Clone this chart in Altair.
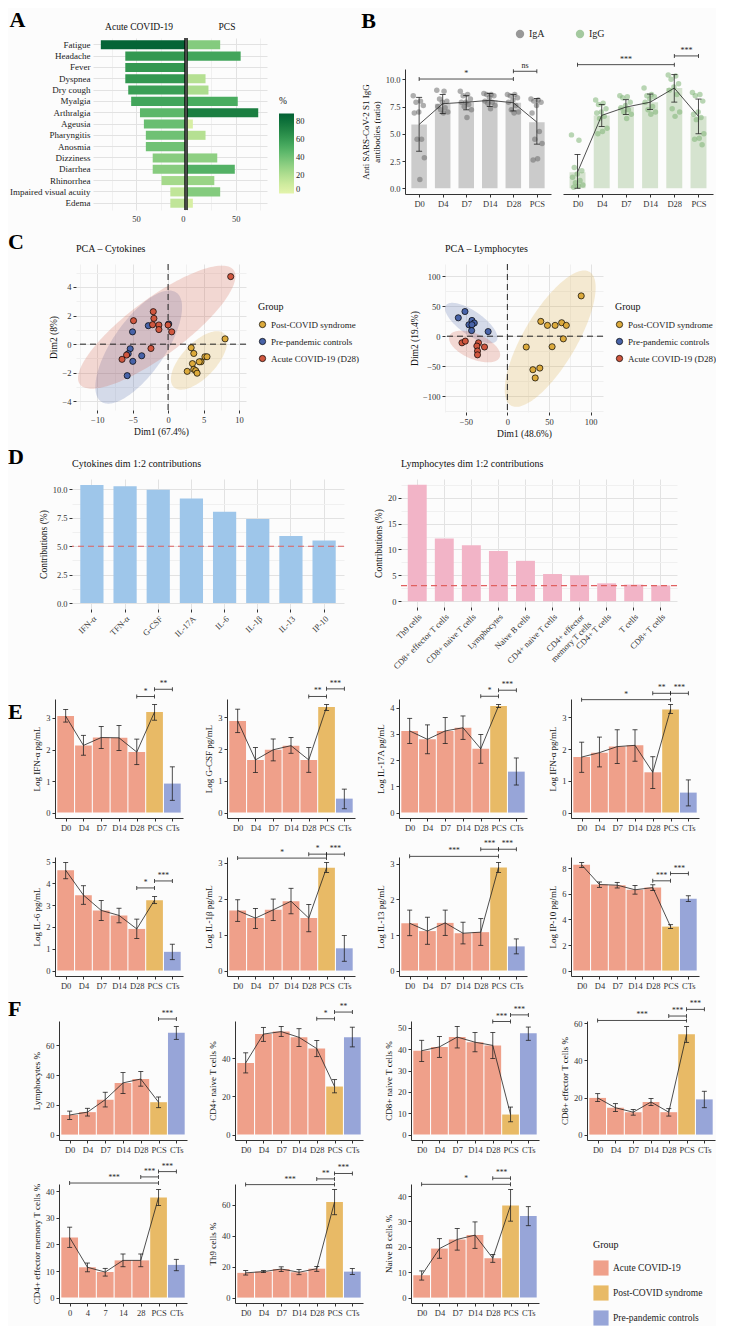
import altair as alt
import numpy as np
import pandas as pd

FONT = "Liberation Serif"
INK = "#222222"
GRID_MAJ = "#e2e2e2"
GRID_MIN = "#f0f0f0"
BG = "#fcfcfc"

# ================= Panel A : symptoms (%) =================
symptoms = ["Fatigue", "Headache", "Fever", "Dyspnea", "Dry cough", "Myalgia", "Arthralgia",
            "Ageusia", "Pharyngitis", "Anosmia", "Dizziness", "Diarrhea", "Rhinorrhea",
            "Impaired visual acuity", "Edema"]
acute_pct = [86, 61, 61, 61, 58, 55, 46, 42, 40, 40, 33, 33, 24, 15, 15]
pcs_pct = [34, 55, 0, 19, 22, 52, 73, 6, 19, 0, 31, 49, 28, 34, 6]

# ================= Panel B : IgA / IgG =================
ig_days = ["D0", "D4", "D7", "D14", "D28", "PCS"]
iga_mean = [5.86, 7.76, 7.9, 8.07, 7.85, 6.07]
iga_lo = [3.4, 6.85, 7.2, 7.5, 7.1, 4.05]
iga_hi = [8.35, 8.6, 8.5, 8.7, 8.6, 8.25]
iga_points = [
    [8.5, 8.0, 7.9, 7.6, 7.0, 6.9, 4.5, 4.5, 2.8, 0.8],
    [9.0, 8.9, 8.2, 8.0, 7.9, 7.5, 7.4, 7.2, 7.0, 6.9],
    [8.9, 8.6, 8.5, 8.2, 7.9, 7.9, 7.7, 7.5, 7.2, 6.5],
    [8.7, 8.6, 8.6, 8.5, 8.3, 8.0, 7.9, 7.8, 7.6, 7.3],
    [8.6, 8.6, 8.5, 8.3, 8.1, 7.9, 7.6, 7.2, 7.0, 6.9],
    [8.2, 8.1, 8.0, 7.9, 7.6, 6.9, 5.2, 4.5, 4.1, 2.7, 2.6],
]
iga_sig = [(0, 4, 10.03, "*"), (4, 5, 10.74, "ns")]
igg_mean = [1.47, 6.69, 7.45, 7.9, 9.2, 6.6]
igg_lo = [0.0, 5.67, 6.78, 7.24, 7.91, 5.0]
igg_hi = [3.1, 7.7, 8.13, 8.65, 10.43, 8.19]
igg_points = [
    [4.9, 4.4, 1.9, 1.6, 1.3, 1.0, 0.7, 0.5, 0.3, 0.2, 0.1],
    [8.1, 7.8, 7.7, 7.3, 7.0, 6.9, 6.6, 6.4, 5.5, 5.2, 5.0],
    [8.5, 8.4, 8.3, 7.9, 7.6, 7.4, 7.2, 7.0, 6.8, 6.4],
    [9.2, 8.6, 8.5, 8.4, 8.2, 7.9, 7.5, 7.2, 7.0, 6.8],
    [10.4, 10.3, 10.0, 9.6, 9.3, 9.0, 8.6, 7.3, 7.0, 6.6],
    [8.8, 8.6, 8.5, 8.0, 7.0, 6.8, 6.5, 6.3, 5.0, 4.6, 4.5, 4.0],
]
igg_sig = [(0, 4, 11.35, "***"), (4, 5, 12.15, "***")]

# ================= Panel C : PCA =================
pca_groups = ["Post-COVID syndrome", "Pre-pandemic controls", "Acute COVID-19 (D28)"]
pca_colors = ["#DCAA3C", "#4863A8", "#D0573F"]
cyto_pcs_x = [8.05, 3.26, 3.63, 3.44, 4.65, 4.4, 5.2, 5.5, 3.63, 3.9, 2.7, 4.1]
cyto_pcs_y = [0.37, -0.25, -0.65, -1.36, -1.23, -1.23, -0.88, -0.88, -1.76, -1.85, -1.9, -2.03]
cyto_ctrl_x = [-5.02, -2.79, 0.09, -5.35, -5.63, -3.72, -4.98, -5.77]
cyto_ctrl_y = [0.86, 1.29, 1.41, -0.32, -0.67, -0.81, -1.2, -2.2]
cyto_acute_x = [8.84, -4.88, -2.09, -2.0, -2.19, -1.3, -1.3, 0.0, 0.51, -2.42, -5.86, -6.5]
cyto_acute_y = [4.72, 1.64, 2.27, 1.8, 1.36, 1.34, 1.02, 1.34, 0.86, -0.3, -0.76, -1.06]
lym_pcs_x = [88.8, 40.2, 48.2, 57.4, 65.3, 70.9, 67.3, 22.7, 53.8, 30.7, 39.0, 33.5]
lym_pcs_y = [67.0, 24.6, 18.0, 18.0, 22.4, 18.0, -4.4, -18.0, -17.5, -55.7, -53.0, -69.4]
lym_ctrl_x = [-59.0, -51.0, -46.2, -42.6, -39.8, -42.6, -43.0, -23.1]
lym_ctrl_y = [30.6, 41.0, 19.0, 26.2, 21.9, 19.1, 9.3, 7.7]
lym_acute_x = [-54.6, -50.6, -34.7, -36.7, -35.9, -35.9, -27.5]
lym_acute_y = [-11.0, -8.2, -11.0, -16.4, -24.6, -31.0, -18.0]

# ================= Panel D : contributions =================
cyto_vars = ["IFN-α", "TFN-α", "G-CSF", "IL-17A", "IL-6", "IL-1β", "IL-13", "IP-10"]
cyto_contrib = [10.4, 10.29, 9.97, 9.2, 8.03, 7.4, 5.91, 5.51]
cyto_threshold = 5.0
lymph_vars = ["Th9 cells", "CD8+ effector T cells", "CD8+ naive T cells", "Lymphocytes",
              "Naive B cells", "CD4+ naive T cells", "CD4+ effector memory T cells",
              "CD4+ T cells", "T cells", "CD8+ T cells"]
lymph_contrib = [22.5, 12.1, 10.8, 9.7, 7.8, 5.25, 5.0, 3.45, 3.2, 3.05]
lymph_threshold = 3.0

# ================= Panels E and F =================
days7 = ["D0", "D4", "D7", "D14", "D28", "PCS", "CTs"]
days7_num = ["0", "4", "7", "14", "28", "PCS", "CTs"]
grp_domain = ["Acute COVID-19", "Post-COVID syndrome", "Pre-pandemic controls"]
grp_range = ["#EFA08A", "#E8BA66", "#97A5D8"]
bar_groups = ["Acute COVID-19", "Acute COVID-19", "Acute COVID-19", "Acute COVID-19",
              "Acute COVID-19", "Post-COVID syndrome", "Pre-pandemic controls"]

ifna1_mean = [3.06, 2.13, 2.38, 2.37, 1.92, 3.19, 0.92]
ifna1_lo = [2.87, 1.82, 2.03, 1.97, 1.52, 2.93, 0.39]
ifna1_hi = [3.27, 2.45, 2.73, 2.76, 2.33, 3.43, 1.45]
ifna1_sig = [(4, 5, 3.68, "*"), (5, 6, 3.91, "**")]

gcsf_mean = [2.89, 1.66, 1.98, 2.11, 1.66, 3.33, 0.44]
gcsf_lo = [2.52, 1.26, 1.63, 1.87, 1.27, 3.22, 0.12]
gcsf_hi = [3.26, 2.05, 2.32, 2.37, 2.05, 3.41, 0.74]
gcsf_sig = [(4, 5, 3.66, "**"), (5, 6, 3.9, "***")]

il17_mean = [3.11, 2.79, 3.11, 3.23, 2.43, 4.06, 1.56]
il17_lo = [2.63, 2.24, 2.63, 2.79, 1.88, 4.0, 1.05]
il17_hi = [3.59, 3.34, 3.62, 3.68, 2.97, 4.12, 2.08]
il17_sig = [(4, 5, 4.43, "*"), (5, 6, 4.66, "***")]

ifna2_mean = [1.75, 1.89, 2.08, 2.12, 1.27, 3.25, 0.63]
ifna2_lo = [1.27, 1.44, 1.55, 1.62, 0.76, 3.12, 0.21]
ifna2_hi = [2.22, 2.38, 2.61, 2.61, 1.76, 3.41, 1.03]
ifna2_sig = [(0, 5, 3.56, "*"), (4, 5, 3.76, "**"), (5, 6, 3.76, "***")]

il6_mean = [4.6, 3.46, 2.76, 2.53, 1.91, 3.23, 0.86]
il6_lo = [4.21, 3.04, 2.3, 2.19, 1.47, 3.07, 0.5]
il6_hi = [4.96, 3.89, 3.21, 2.86, 2.36, 3.4, 1.21]
il6_sig = [(4, 5, 3.79, "*"), (5, 6, 4.11, "***")]

il1b_mean = [1.67, 1.46, 1.69, 1.93, 1.46, 2.86, 0.62]
il1b_lo = [1.37, 1.17, 1.39, 1.58, 1.08, 2.73, 0.26]
il1b_hi = [1.97, 1.73, 1.99, 2.29, 1.84, 3.01, 0.98]
il1b_sig = [(0, 5, 3.13, "*"), (4, 5, 3.24, "*"), (5, 6, 3.24, "***")]

il13_mean = [1.33, 1.11, 1.34, 1.05, 1.08, 2.9, 0.68]
il13_lo = [0.98, 0.74, 0.99, 0.75, 0.71, 2.76, 0.47]
il13_hi = [1.7, 1.5, 1.7, 1.36, 1.46, 3.04, 0.89]
il13_sig = [(0, 5, 3.21, "***"), (4, 5, 3.41, "***"), (5, 6, 3.41, "***")]

ip10_mean = [8.27, 6.73, 6.68, 6.32, 6.49, 3.44, 5.61]
ip10_lo = [8.07, 6.51, 6.46, 5.98, 6.27, 3.29, 5.41]
ip10_hi = [8.46, 6.93, 6.9, 6.66, 6.71, 3.59, 5.85]
ip10_sig = [(4, 5, 7.02, "***"), (5, 6, 7.59, "***")]

lymph_mean = [13.2, 15.1, 23.5, 34.8, 37.4, 21.8, 68.5]
lymph_lo = [10.2, 12.5, 18.6, 27.6, 32.6, 18.1, 64.1]
lymph_hi = [15.8, 17.7, 28.5, 41.7, 42.5, 25.3, 72.8]
lymph_sig = [(5, 6, 77.8, "***")]

cd4n_mean = [37.4, 52.5, 53.8, 50.8, 44.9, 25.1, 50.8]
cd4n_lo = [32.2, 48.7, 51.3, 46.0, 40.7, 21.8, 45.8]
cd4n_hi = [42.7, 56.0, 56.5, 55.3, 49.2, 28.7, 56.1]
cd4n_sig = [(4, 5, 60.5, "*"), (5, 6, 64.0, "**")]

cd8n_mean = [39.3, 41.1, 45.7, 43.3, 41.8, 9.4, 47.5]
cd8n_lo = [34.2, 36.2, 40.6, 38.8, 35.6, 6.0, 44.2]
cd8n_hi = [44.2, 46.0, 50.7, 47.9, 47.9, 12.9, 50.4]
cd8n_sig = [(4, 5, 53.0, "***"), (5, 6, 56.1, "***")]

cd8e_mean = [19.8, 14.5, 12.1, 17.6, 12.1, 54.1, 19.0]
cd8e_lo = [17.8, 12.4, 10.5, 15.7, 10.0, 49.8, 14.5]
cd8e_hi = [22.1, 16.7, 13.6, 19.5, 14.0, 58.4, 23.4]
cd8e_sig = [(0, 5, 61.6, "***"), (4, 5, 64.0, "***"), (5, 6, 67.6, "***")]

cd4em_mean = [22.6, 11.4, 9.6, 14.0, 14.0, 37.7, 12.3]
cd4em_lo = [18.9, 9.7, 8.1, 11.6, 11.6, 34.6, 10.1]
cd4em_hi = [26.5, 13.0, 11.0, 16.4, 16.4, 40.7, 14.4]
cd4em_sig = [(0, 5, 43.1, "***"), (4, 5, 45.4, "***"), (5, 6, 47.4, "***")]

th9_mean = [16.0, 16.8, 18.5, 16.4, 18.7, 61.8, 16.8]
th9_lo = [14.6, 16.2, 16.8, 14.8, 17.0, 53.6, 15.0]
th9_hi = [17.5, 17.5, 19.9, 18.1, 20.1, 70.0, 18.9]
th9_sig = [(0, 5, 73.1, "***"), (4, 5, 76.8, "**"), (5, 6, 80.3, "***")]

nb_mean = [8.8, 19.3, 22.9, 24.6, 15.5, 36.3, 32.1]
nb_lo = [6.9, 15.5, 18.7, 19.4, 13.9, 30.1, 28.3]
nb_hi = [10.5, 23.2, 27.2, 29.8, 17.0, 42.6, 35.8]
nb_sig = [(0, 5, 44.6, "*"), (4, 5, 47.0, "***")]


# ================= helpers =================
def js_list(labels):
    return "[" + ",".join("'" + l + "'" for l in labels) + "]"


def spacer(w, h=1, title=None):
    ch = alt.Chart(pd.DataFrame({"s": [0.5]})).mark_point(opacity=0, size=1).encode(
        x=alt.X("s:Q", axis=None, scale=alt.Scale(domain=[0, 1])),
        y=alt.Y("s:Q", axis=None, scale=alt.Scale(domain=[0, 1])))
    if title is not None:
        return ch.properties(width=w, height=h, title=title)
    return ch.properties(width=w, height=h)


def letter(t, orient="top", offset=4):
    return alt.TitleParams(t, orient=orient, anchor="start", fontSize=22, fontWeight="bold",
                           font=FONT, color="#000000", offset=offset)


def cond(test, a, b):
    return {"condition": {"test": test, "value": a}, "value": b}


# ---------------- Panel A ----------------
dfA = pd.DataFrame({"symptom": symptoms, "acute": acute_pct, "pcs": pcs_pct})
a_cscale = alt.Scale(scheme="yellowgreen", domain=[0, 88])
a_legend = alt.Legend(title="%", orient="none", legendX=186, legendY=58, direction="vertical",
                      gradientLength=80, gradientThickness=15, values=[0, 20, 40, 60, 80],
                      labelFontSize=8.5, titleFontSize=9.5, titlePadding=8)


def a_side(field, dom, reverse, show_labels, label_test, title, w):
    yax = alt.Axis(title=None, ticks=False, domain=False, labels=show_labels, labelFontSize=9,
                   labelColor=INK, labelPadding=3, grid=True, gridColor=GRID_MAJ, bandPosition=0.5)
    xs = alt.Scale(domain=dom, reverse=reverse, nice=False, zero=False)
    xax = alt.Axis(title=None, ticks=False, domain=False, values=[0, 25, 50, 75],
                   labelExpr="(" + label_test + ") ? datum.label : ''", grid=True,
                   gridColor=cond("datum.value % 50 == 0", GRID_MAJ, GRID_MIN),
                   labelFontSize=8.5, labelPadding=4)
    bars = alt.Chart(dfA).mark_bar().encode(
        y=alt.Y("symptom:N", sort=symptoms, scale=alt.Scale(paddingInner=0.2, paddingOuter=0.2), axis=yax),
        x=alt.X(field + ":Q", scale=xs, axis=xax),
        x2=alt.datum(0),
        color=alt.Color(field + ":Q", scale=a_cscale, legend=a_legend))
    zero = alt.Chart(pd.DataFrame({"z": [0]})).mark_rule(color="black", strokeWidth=1.4).encode(
        x=alt.X("z:Q", scale=xs, axis=xax))
    return alt.layer(bars, zero).properties(
        width=w, height=172,
        title=alt.TitleParams(title, fontSize=9.5, anchor="middle", frame="group", offset=6))


A_left = a_side("acute", [0, 94], True, True, "datum.value % 50 == 0", "Acute COVID-19", 92)
A_right = a_side("pcs", [0, 82], False, False, "datum.value == 50", "PCS", 80)
A_group = alt.hconcat(A_left, A_right, spacing=0, title=letter("A", offset=-10)).resolve_scale(color="shared")

# ---------------- Panel B ----------------
ig_legend = alt.Legend(title=None, orient="none", legendX=110, legendY=-9, direction="horizontal",
                       symbolSize=70, labelFontSize=10, columnPadding=30, symbolOpacity=0.7)


def sig_layers(sig, X, Y, fsize=7.5):
    dsig = pd.DataFrame(sig, columns=["a", "b", "lvl", "lab"])
    sb = alt.Chart(dsig)
    br = sb.mark_rule(color=INK, strokeWidth=0.8).encode(x=X("a:Q"), x2="b:Q", y=Y("lvl:Q"))
    bra = sb.mark_tick(orient="vertical", size=4, thickness=0.8, color=INK, opacity=1).encode(
        x=X("a:Q"), y=Y("lvl:Q"))
    brb = sb.mark_tick(orient="vertical", size=4, thickness=0.8, color=INK, opacity=1).encode(
        x=X("b:Q"), y=Y("lvl:Q"))
    brt = sb.transform_calculate(m="(datum.a + datum.b) / 2").mark_text(
        fontSize=fsize, baseline="bottom", dy=-1, color=INK, font=FONT).encode(
        x=X("m:Q"), y=Y("lvl:Q"), text="lab:N")
    return [br, bra, brb, brt]


def ig_panel(name, means, lo, hi, pts, sig, bar_color, show_y, w):
    dstat = pd.DataFrame({"i": list(range(6)), "mean": means, "lo": lo, "hi": hi})
    rows = [(i, k, v) for i, vals in enumerate(pts) for k, v in enumerate(vals)]
    dpts = pd.DataFrame(rows, columns=["i", "k", "v"])
    dpts["ig"] = name
    xs = alt.Scale(domain=[-0.6, 5.6], nice=False, zero=False)
    ys = alt.Scale(domain=[-0.53, 10.95], nice=False, zero=False)
    xax = alt.Axis(values=list(range(6)), labelExpr=js_list(ig_days) + "[datum.value]", title=None,
                   grid=False, labelAngle=0, tickSize=3, labelFontSize=8.5)
    if show_y:
        yax = alt.Axis(values=[0, 2.5, 5, 7.5, 10], format=".1f",
                       title=["Anti SARS-CoV-2 S1 IgG", "antibodies (ratio)"], grid=False,
                       tickSize=3, labelFontSize=8.5, titleFontSize=9, titlePadding=4)
    else:
        yax = None

    def X(f):
        return alt.X(f, scale=xs, axis=xax)

    def Y(f):
        return alt.Y(f, scale=ys, axis=yax)

    base = alt.Chart(dstat)
    bars = base.transform_calculate(x0="datum.i - 0.33", x1="datum.i + 0.33").mark_bar(
        color=bar_color).encode(x=X("x0:Q"), x2="x1:Q", y=Y("mean:Q"), y2=alt.datum(0))
    points = alt.Chart(dpts).transform_calculate(
        xj="datum.i + ((datum.k * 0.618034) % 1 - 0.5) * 0.5").mark_circle(size=30, opacity=0.55).encode(
        x=X("xj:Q"), y=Y("v:Q"),
        color=alt.Color("ig:N", scale=alt.Scale(domain=["IgA", "IgG"], range=["#6e6e6e", "#7fb477"]),
                        legend=ig_legend))
    err = base.mark_rule(color=INK, strokeWidth=0.8).encode(x=X("i:Q"), y=Y("lo:Q"), y2="hi:Q")
    cap_lo = base.mark_tick(orient="horizontal", size=6, thickness=0.8, color=INK, opacity=1).encode(
        x=X("i:Q"), y=Y("lo:Q"))
    cap_hi = base.mark_tick(orient="horizontal", size=6, thickness=0.8, color=INK, opacity=1).encode(
        x=X("i:Q"), y=Y("hi:Q"))
    line = base.mark_line(color=INK, strokeWidth=0.8).encode(x=X("i:Q"), y=Y("mean:Q"))
    layers = [bars, points, err, cap_lo, cap_hi, line] + sig_layers(sig, X, Y, 8)
    return alt.layer(*layers).properties(width=w, height=125)


B_iga = ig_panel("IgA", iga_mean, iga_lo, iga_hi, iga_points, iga_sig, "#cbcbcb", True, 146)
B_igg = ig_panel("IgG", igg_mean, igg_lo, igg_hi, igg_points, igg_sig, "#d5e3cf", False, 150)
B_pair = alt.hconcat(B_iga, B_igg, spacing=12).resolve_scale(color="shared")
B_group = alt.vconcat(spacer(1, 8), B_pair, spacing=0, title=letter("B", offset=-4))

row_AB = alt.hconcat(spacer(1, 1), alt.hconcat(A_group, B_group, spacing=56).resolve_scale(color="independent"),
                     spacing=0).resolve_scale(color="independent")


# ---------------- Panel C ----------------
def ellipse_frame(xs, ys, n=90):
    pts = np.column_stack([xs, ys]).astype(float)
    c = pts.mean(axis=0)
    S = np.cov(pts.T)
    dfree = len(xs) - 1
    r2 = dfree * (0.05 ** (-2.0 / dfree) - 1.0)  # 2 * F_0.95(2, n-1)
    Si = np.linalg.inv(S)
    a, b, d = Si[0, 0], Si[0, 1], Si[1, 1]
    hx = np.sqrt(r2 * S[0, 0])
    t = np.linspace(0, np.pi, n)
    dx = -hx * np.cos(t)
    disc = np.clip(b * b * dx * dx - d * (a * dx * dx - r2), 0, None)
    root = np.sqrt(disc)
    return pd.DataFrame({"ex": c[0] + dx, "elo": c[1] + (-b * dx - root) / d,
                         "ehi": c[1] + (-b * dx + root) / d})


def pca_panel(title, sets, xdom, ydom, xvals, xmaj, yvals, ymaj, xtitle, ytitle, w, h):
    prow = []
    for g, (gx, gy) in zip(pca_groups, sets):
        prow += [(g, a, b) for a, b in zip(gx, gy)]
    dpts = pd.DataFrame(prow, columns=["grp", "x", "y"])
    xs = alt.Scale(domain=xdom, nice=False, zero=False)
    ys = alt.Scale(domain=ydom, nice=False, zero=False)
    xt = "datum.value % " + str(xmaj) + " == 0"
    yt = "datum.value % " + str(ymaj) + " == 0"
    xax = alt.Axis(values=xvals, labelExpr="(" + xt + ") ? datum.label : ''", tickOpacity=cond(xt, 1, 0),
                   gridColor=cond(xt, GRID_MAJ, GRID_MIN), grid=True, domain=False, tickSize=3,
                   title=xtitle, titleFontSize=9.5, labelFontSize=8.5, titlePadding=3)
    yax = alt.Axis(values=yvals, labelExpr="(" + yt + ") ? datum.label : ''", tickOpacity=cond(yt, 1, 0),
                   gridColor=cond(yt, GRID_MAJ, GRID_MIN), grid=True, domain=False, tickSize=3,
                   title=ytitle, titleFontSize=9.5, labelFontSize=8.5, titlePadding=3)

    def X(f):
        return alt.X(f, scale=xs, axis=xax)

    def Y(f):
        return alt.Y(f, scale=ys, axis=yax)

    areas = [alt.Chart(ellipse_frame(gx, gy)).mark_area(opacity=0.22, clip=True, color=col).encode(
        x=X("ex:Q"), y=Y("elo:Q"), y2="ehi:Q") for col, (gx, gy) in zip(pca_colors, sets)]
    zdf = pd.DataFrame({"z": [0]})
    vline = alt.Chart(zdf).mark_rule(color=INK, strokeDash=[6, 4], strokeWidth=1).encode(x=X("z:Q"))
    hline = alt.Chart(zdf).mark_rule(color=INK, strokeDash=[6, 4], strokeWidth=1).encode(y=Y("z:Q"))
    pts = alt.Chart(dpts).mark_circle(size=38, opacity=1, stroke="black", strokeWidth=0.7).encode(
        x=X("x:Q"), y=Y("y:Q"),
        color=alt.Color("grp:N", scale=alt.Scale(domain=pca_groups, range=pca_colors),
                        legend=alt.Legend(title="Group", orient="none", legendX=w + 12, legendY=38,
                                          symbolStrokeColor="black", symbolStrokeWidth=0.7, symbolSize=40,
                                          symbolType="circle", symbolOpacity=1,
                                          labelFontSize=9, titleFontSize=10, rowPadding=6, titlePadding=8)))
    return alt.layer(*areas, vline, hline, pts).properties(
        width=w, height=h, title=alt.TitleParams(title, fontSize=10, anchor="start", frame="group", offset=10))


C_left = pca_panel("PCA – Cytokines",
                   [(cyto_pcs_x, cyto_pcs_y), (cyto_ctrl_x, cyto_ctrl_y), (cyto_acute_x, cyto_acute_y)],
                   [-13, 11], [-4.6, 5.6], [-12.5 + 2.5 * k for k in range(10)], 5,
                   [-4 + k for k in range(10)], 2, "Dim1 (67.4%)", "Dim2 (8%)", 170, 146)
C_right = pca_panel("PCA – Lymphocytes",
                    [(lym_pcs_x, lym_pcs_y), (lym_ctrl_x, lym_ctrl_y), (lym_acute_x, lym_acute_y)],
                    [-75, 115], [-126, 120], [-75 + 25 * k for k in range(8)], 50,
                    [-125 + 25 * k for k in range(10)], 50, "Dim1 (48.6%)", "Dim2 (19.4%)", 158, 148)
row_C = alt.hconcat(spacer(28, 1, letter("C", offset=10)),
                    alt.hconcat(C_left, C_right, spacing=50).resolve_scale(color="independent"),
                    spacing=12).resolve_scale(color="independent")


# ---------------- Panel D ----------------
def contrib_panel(title, names, vals, thr, color, yvals, ymaj, fmt, w, h):
    df = pd.DataFrame({"name": names, "val": vals})
    top = max(vals)
    ys = alt.Scale(domain=[-0.05 * top, 1.05 * top], nice=False, zero=False)
    yt = "datum.value % " + str(ymaj) + " == 0"
    xax = alt.Axis(title=None, labelAngle=-45, labelAlign="right", labelBaseline="top", tickSize=3,
                   domain=False, grid=True, gridColor=GRID_MAJ, labelFontSize=8.5, labelPadding=2,
                   bandPosition=0.5,
                   labelExpr="datum.label == 'CD4+ effector memory T cells' ? ['CD4+ effector', 'memory T cells'] : datum.label")
    yax = alt.Axis(values=yvals, format=fmt, labelExpr="(" + yt + ") ? datum.label : ''",
                   tickOpacity=cond(yt, 1, 0), gridColor=cond(yt, GRID_MAJ, GRID_MIN), grid=True,
                   domain=False, tickSize=3, title="Contributions (%)", titleFontSize=9.5,
                   labelFontSize=8.5, titlePadding=4)
    bars = alt.Chart(df).mark_bar(color=color).encode(
        x=alt.X("name:N", sort=names, scale=alt.Scale(paddingInner=0.3, paddingOuter=0.25), axis=xax),
        y=alt.Y("val:Q", scale=ys, axis=yax), y2=alt.datum(0))
    rule = alt.Chart(pd.DataFrame({"t": [thr]})).mark_rule(
        color="#e0605f", strokeDash=[6, 4], strokeWidth=1.1).encode(y=alt.Y("t:Q", scale=ys, axis=yax))
    return alt.layer(bars, rule).properties(
        width=w, height=h, title=alt.TitleParams(title, fontSize=10, anchor="start", frame="group", offset=10))


D_left = contrib_panel("Cytokines dim 1:2 contributions", cyto_vars, cyto_contrib, cyto_threshold,
                       "#9ec6ea", [1.25 * k for k in range(9)], 2.5, ".1f", 272, 130)
D_right = contrib_panel("Lymphocytes dim 1:2 contributions", lymph_vars, lymph_contrib, lymph_threshold,
                        "#f2b4c7", [2.5 * k for k in range(10)], 5, "d", 276, 128)
row_D = alt.hconcat(spacer(20, 1, letter("D", offset=10)),
                    alt.hconcat(D_left, D_right, spacing=28), spacing=10)


# ---------------- Panels E / F ----------------
f_legend = alt.Legend(title="Group", orient="none", legendX=182, legendY=56, symbolType="square",
                      symbolSize=230, symbolStrokeWidth=0, labelFontSize=9.5, titleFontSize=10,
                      rowPadding=9, titlePadding=10, symbolOpacity=1)


def bar_panel(ytitle, labels, mean, lo, hi, sig, legend=None, w=128, h=119):
    n = len(labels)
    df = pd.DataFrame({"i": list(range(n)), "mean": mean, "lo": lo, "hi": hi, "grp": bar_groups})
    top = max(hi)
    xs = alt.Scale(domain=[-0.6, n - 0.4], nice=False, zero=False)
    ys = alt.Scale(domain=[-0.05 * top, 1.05 * top], nice=False, zero=False)
    xax = alt.Axis(values=list(range(n)), labelExpr=js_list(labels) + "[datum.value]", title=None,
                   grid=False, labelAngle=0, tickSize=3, labelPadding=2, labelFontSize=8.5)
    yax = alt.Axis(title=ytitle, tickCount=4, grid=False, tickSize=3, labelPadding=2, titlePadding=4,
                   labelFontSize=8.5, titleFontSize=9)

    def X(f):
        return alt.X(f, scale=xs, axis=xax)

    def Y(f):
        return alt.Y(f, scale=ys, axis=yax)

    base = alt.Chart(df)
    bars = base.transform_calculate(x0="datum.i - 0.47", x1="datum.i + 0.47").mark_bar().encode(
        x=X("x0:Q"), x2="x1:Q", y=Y("mean:Q"), y2=alt.datum(0),
        color=alt.Color("grp:N", scale=alt.Scale(domain=grp_domain, range=grp_range), legend=legend))
    err = base.mark_rule(color=INK, strokeWidth=0.8).encode(x=X("i:Q"), y=Y("lo:Q"), y2="hi:Q")
    cap_lo = base.mark_tick(orient="horizontal", size=5, thickness=0.8, color=INK, opacity=1).encode(
        x=X("i:Q"), y=Y("lo:Q"))
    cap_hi = base.mark_tick(orient="horizontal", size=5, thickness=0.8, color=INK, opacity=1).encode(
        x=X("i:Q"), y=Y("hi:Q"))
    line = base.transform_filter("datum.i <= 5").mark_line(color=INK, strokeWidth=0.8).encode(
        x=X("i:Q"), y=Y("mean:Q"))
    layers = [bars, err, cap_lo, cap_hi, line] + sig_layers(sig, X, Y)
    return alt.layer(*layers).properties(width=w, height=h)


E_panels = [
    bar_panel("Log IFN-α pg/mL", days7, ifna1_mean, ifna1_lo, ifna1_hi, ifna1_sig),
    bar_panel("Log G-CSF pg/mL", days7, gcsf_mean, gcsf_lo, gcsf_hi, gcsf_sig),
    bar_panel("Log IL-17A pg/mL", days7, il17_mean, il17_lo, il17_hi, il17_sig),
    bar_panel("Log IFN-α pg/mL", days7, ifna2_mean, ifna2_lo, ifna2_hi, ifna2_sig),
    bar_panel("Log IL-6 pg/mL", days7, il6_mean, il6_lo, il6_hi, il6_sig),
    bar_panel("Log IL-1β pg/mL", days7, il1b_mean, il1b_lo, il1b_hi, il1b_sig),
    bar_panel("Log IL-13 pg/mL", days7, il13_mean, il13_lo, il13_hi, il13_sig),
    bar_panel("Log IP-10 pg/mL", days7, ip10_mean, ip10_lo, ip10_hi, ip10_sig),
]
F_panels = [
    bar_panel("Lymphocytes %", days7, lymph_mean, lymph_lo, lymph_hi, lymph_sig),
    bar_panel("CD4+ naive T cells %", days7, cd4n_mean, cd4n_lo, cd4n_hi, cd4n_sig),
    bar_panel("CD8+ naive T cells %", days7, cd8n_mean, cd8n_lo, cd8n_hi, cd8n_sig),
    bar_panel("CD8+ effector T cells %", days7, cd8e_mean, cd8e_lo, cd8e_hi, cd8e_sig),
    bar_panel("CD4+ effector memory T cells %", days7_num, cd4em_mean, cd4em_lo, cd4em_hi, cd4em_sig),
    bar_panel("Th9 cells %", days7, th9_mean, th9_lo, th9_hi, th9_sig),
    bar_panel("Naive B cells %", days7, nb_mean, nb_lo, nb_hi, nb_sig, legend=f_legend),
]


def bar_row(panels, lead):
    inner = alt.hconcat(*panels, spacing=21).resolve_scale(color="independent")
    return alt.hconcat(lead, inner, spacing=8).resolve_scale(color="independent")


row_E1 = bar_row(E_panels[:4], spacer(16, 1, letter("E", orient="bottom", offset=2)))
row_E2 = bar_row(E_panels[4:], spacer(16, 1))
row_F1 = bar_row(F_panels[:4], spacer(16, 1, letter("F", offset=0)))
row_F2 = bar_row(F_panels[4:], spacer(16, 1))

chart = alt.vconcat(row_AB, row_C, row_D, row_E1, row_E2, row_F1, row_F2, spacing=8).resolve_scale(
    color="independent").properties(background=BG, padding=0).configure(
    font=FONT).configure_view(stroke=None).configure_axis(
    labelFont=FONT, titleFont=FONT, labelColor="#333333", titleColor="#111111", titleFontWeight="normal",
    tickColor="#333333", domainColor="#333333").configure_title(
    font=FONT, fontWeight="normal", color="#111111").configure_legend(
    labelFont=FONT, titleFont=FONT, titleFontWeight="normal", labelColor="#222222", titleColor="#111111")

chart.save("out.html", embed_options={"renderer": "svg", "actions": False})
